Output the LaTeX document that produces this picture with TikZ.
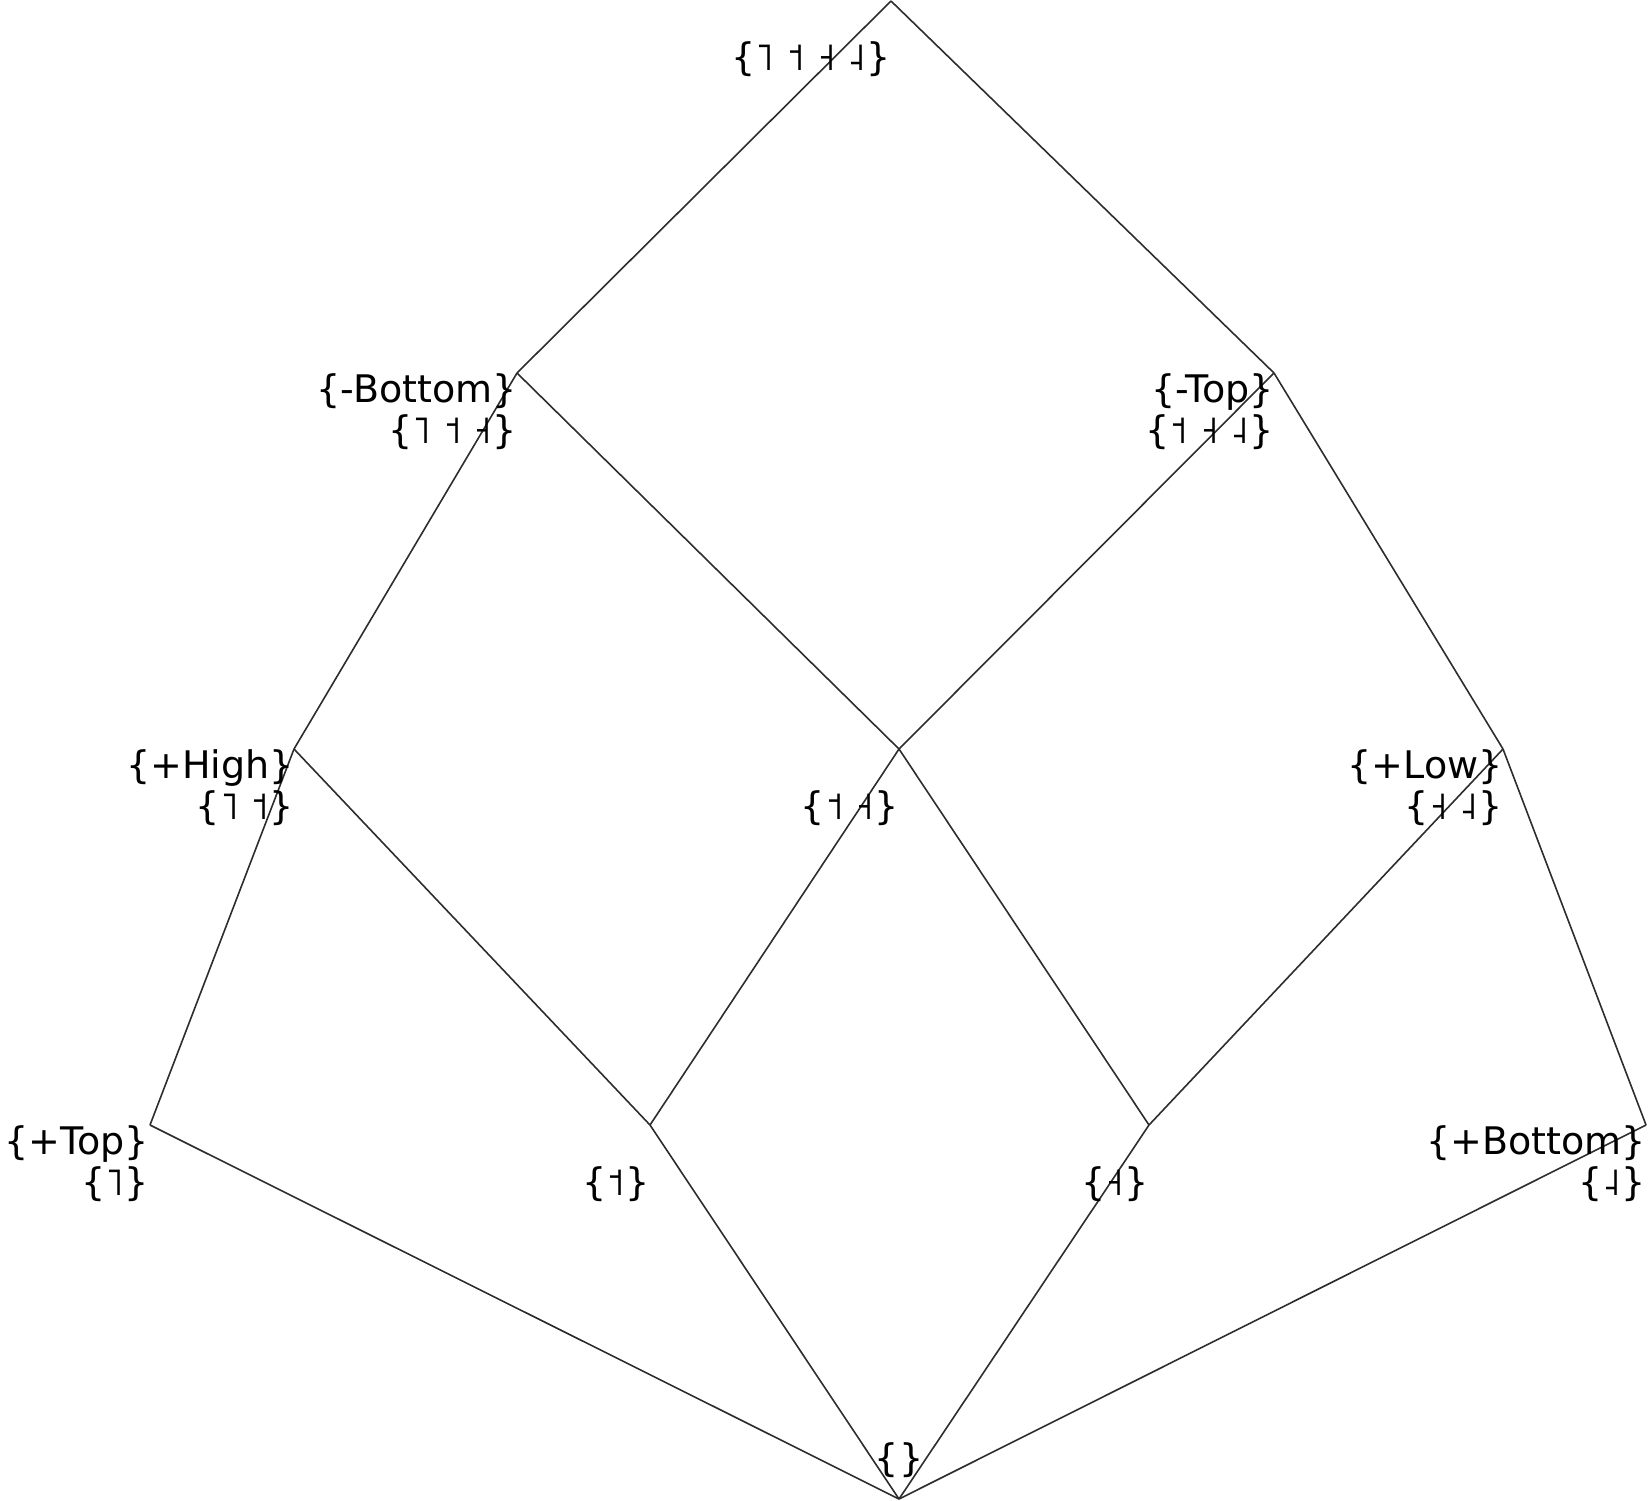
\documentclass[tikz,border=0pt]{standalone}
\usepackage{fontspec}
\setmainfont{DejaVu Sans}
\definecolor{edgec}{RGB}{45,45,45}
\begin{document}
\begin{tikzpicture}[x=1pt,y=-1pt,
  edge/.style={draw=edgec, line width=1.6pt},
  lbl/.style={anchor=base east, inner sep=0pt, font=\fontsize{38}{45}\selectfont}]
\useasboundingbox (0,0) rectangle (1648,1500);
% vertices
\coordinate (top) at (891,1);
\coordinate (nb) at (517,373);
\coordinate (nt) at (1274,373);
\coordinate (ph) at (294,749);
\coordinate (mid) at (899,749);
\coordinate (pl) at (1503,749);
\coordinate (pt) at (150,1125);
\coordinate (h) at (650,1125);
\coordinate (m) at (1149,1125);
\coordinate (pb) at (1646,1125);
\coordinate (bot) at (899,1499);
% edges
\draw[edge] (top) -- (nb);
\draw[edge] (top) -- (nt);
\draw[edge] (nb) -- (ph);
\draw[edge] (nb) -- (mid);
\draw[edge] (nt) -- (mid);
\draw[edge] (nt) -- (pl);
\draw[edge] (ph) -- (pt);
\draw[edge] (ph) -- (h);
\draw[edge] (mid) -- (h);
\draw[edge] (mid) -- (m);
\draw[edge] (pl) -- (m);
\draw[edge] (pl) -- (pb);
\draw[edge] (pt) -- (bot);
\draw[edge] (h) -- (bot);
\draw[edge] (m) -- (bot);
\draw[edge] (pb) -- (bot);
% labels
\node[lbl] (topL) at ([shift={(0,69)}]top) {\{˥ ˦ ˧ ˨\}};
\node[lbl] (nbA) at ([shift={(0,29)}]nb) {\{-Bottom\}};
\node[lbl] (nbB) at ([shift={(0,70)}]nb) {\{˥ ˦ ˧\}};
\node[lbl] (ntA) at ([shift={(0,29)}]nt) {\{-Top\}};
\node[lbl] (ntB) at ([shift={(0,70)}]nt) {\{˦ ˧ ˨\}};
\node[lbl] (phA) at ([shift={(0,29)}]ph) {\{+High\}};
\node[lbl] (phB) at ([shift={(0,70)}]ph) {\{˥ ˦\}};
\node[lbl] (midB) at ([shift={(0,70)}]mid) {\{˦ ˧\}};
\node[lbl] (plA) at ([shift={(0,29)}]pl) {\{+Low\}};
\node[lbl] (plB) at ([shift={(0,70)}]pl) {\{˧ ˨\}};
\node[lbl] (ptA) at ([shift={(-1,29)}]pt) {\{+Top\}};
\node[lbl] (ptB) at ([shift={(-1,70)}]pt) {\{˥\}};
\node[lbl] (hB) at ([shift={(0,70)}]h) {\{˦\}};
\node[lbl] (mB) at ([shift={(0,70)}]m) {\{˧\}};
\node[lbl] (pbA) at ([shift={(0,29)}]pb) {\{+Bottom\}};
\node[lbl] (pbB) at ([shift={(0,70)}]pb) {\{˨\}};
\node[lbl, anchor=base] (botL) at ([shift={(0,-28)}]bot) {\{\}};
\end{tikzpicture}
\end{document}
